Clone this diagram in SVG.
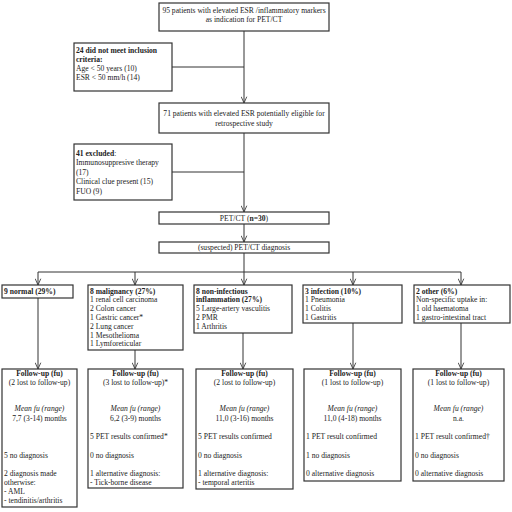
<svg xmlns="http://www.w3.org/2000/svg" width="512" height="512" viewBox="0 0 512 512">
<defs>
<style>
text{font-family:"Liberation Serif","Times New Roman",serif;font-size:7.6px;fill:#222}
.b{font-weight:bold}
.i{font-style:italic}
.c{text-anchor:middle}
.box{fill:#fff;stroke:#333;stroke-width:1.2}
.ln{fill:none;stroke:#333;stroke-width:1}
.ar{fill:none;stroke:#333;stroke-width:1;marker-end:url(#ah)}
</style>
<marker id="ah" viewBox="0 0 10 10" refX="10" refY="5" markerWidth="7" markerHeight="7" orient="auto" markerUnits="userSpaceOnUse">
<path d="M1,1 L10,5 L1,9" fill="none" stroke="#333" stroke-width="1.2"/>
</marker>
</defs>
<rect width="512" height="512" fill="#fff"/>
<g id="connectors">
<path class="ar" d="M244,31 V103"/>
<path class="ln" d="M172,67 H244"/>
<path class="ar" d="M244,133 V212"/>
<path class="ln" d="M172,172 H244"/>
<path class="ar" d="M244,224 V242"/>
<path class="ar" d="M244,253 V285"/>
<path class="ln" d="M38,272 H461"/>
<path class="ar" d="M38,272 V285"/>
<path class="ar" d="M135,272 V285"/>
<path class="ar" d="M353,272 V285"/>
<path class="ar" d="M461,272 V285"/>
<path class="ar" d="M38,298 V369"/>
<path class="ar" d="M135,350 V369"/>
<path class="ar" d="M243,333 V369"/>
<path class="ar" d="M353,323 V369"/>
<path class="ar" d="M461,323 V369"/>
</g>
<g id="n95">
<rect class="box" x="159" y="3" width="170" height="28"/>
<text class="c" x="244" y="12.5">95 patients with elevated ESR /inflammatory markers</text>
<text class="c" x="244" y="22">as indication for PET/CT</text>
</g>
<g id="n24">
<rect class="box" x="74" y="43" width="98" height="48"/>
<text class="b" x="76" y="52.5">24 did not meet inclusion</text>
<text class="b" x="76" y="61.5">criteria:</text>
<text x="76" y="70.5">Age &lt; 50 years (10)</text>
<text x="76" y="79.5">ESR &lt; 50 mm/h (14)</text>
</g>
<g id="n71">
<rect class="box" x="159" y="103" width="170" height="30"/>
<text class="c" x="244" y="115.5">71 patients with elevated ESR potentially eligible for</text>
<text class="c" x="244" y="125.5">retrospective study</text>
</g>
<g id="n41">
<rect class="box" x="74" y="144" width="98" height="56"/>
<text x="76" y="155.5"><tspan class="b">41 excluded</tspan>:</text>
<text x="76" y="165">Immunosuppresive therapy</text>
<text x="76" y="174.5">(17)</text>
<text x="76" y="184">Clinical clue present (15)</text>
<text x="76" y="193.5">FUO (9)</text>
</g>
<g id="npet">
<rect class="box" x="159" y="212" width="170" height="12"/>
<text class="c" x="244" y="220.8">PET/CT (<tspan class="b">n=30</tspan>)</text>
</g>
<g id="nsusp">
<rect class="box" x="159" y="242" width="170" height="11"/>
<text class="c" x="244" y="250.3">(suspected) PET/CT diagnosis</text>
</g>
<g id="nnormal">
<rect class="box" x="2" y="285" width="71" height="13"/>
<text class="b" x="4" y="293.5">9 normal (29%)</text>
</g>
<g id="nmalig">
<rect class="box" x="88" y="285" width="95" height="65"/>
<text class="b" x="90" y="293.5">8 malignancy (27%)</text>
<text x="90" y="302.3">1 renal cell carcinoma</text>
<text x="90" y="311.1">2 Colon cancer</text>
<text x="90" y="319.9">1 Gastric cancer*</text>
<text x="90" y="328.7">2 Lung cancer</text>
<text x="90" y="337.5">1 Mesothelioma</text>
<text x="90" y="346.3">1 Lymforeticular</text>
</g>
<g id="ninfl">
<rect class="box" x="194" y="285" width="98" height="48"/>
<text class="b" x="196" y="293.5">8 non-infectious</text>
<text class="b" x="196" y="302.3">inflammation (27%)</text>
<text x="196" y="311.1">5 Large-artery vasculitis</text>
<text x="196" y="319.9">2 PMR</text>
<text x="196" y="328.7">1 Arthritis</text>
</g>
<g id="ninf">
<rect class="box" x="303" y="285" width="99" height="38"/>
<text class="b" x="305" y="293.5">3 infection (10%)</text>
<text x="305" y="302.3">1 Pneumonia</text>
<text x="305" y="311.1">1 Colitis</text>
<text x="305" y="319.9">1 Gastritis</text>
</g>
<g id="nother">
<rect class="box" x="414" y="285" width="96" height="38"/>
<text class="b" x="416" y="293.5">2 other (6%)</text>
<text x="416" y="302.3">Non-specific uptake in:</text>
<text x="416" y="311.1">1 old haematoma</text>
<text x="416" y="319.9">1 gastro-intestinal tract</text>
</g>
<g id="fnormal">
<rect class="box" x="2" y="369" width="75" height="138"/>
<text class="c b" x="39.5" y="376">Follow-up (fu)</text>
<text class="c" x="39.5" y="385">(2 lost to follow-up)</text>
<text class="c i" x="39.5" y="411">Mean fu  (range)</text>
<text class="c" x="39.5" y="421">7,7 (3-14) months</text>
<text x="4" y="458">5 no diagnosis</text>
<text x="4" y="476">2 diagnosis made</text>
<text x="4" y="485">otherwise:</text>
<text x="4" y="494">- AML</text>
<text x="4" y="503">- tendinitis/arthritis</text>
</g>
<g id="fmalig">
<rect class="box" x="88" y="369" width="95" height="119"/>
<text class="c b" x="135.5" y="376">Follow-up (fu)</text>
<text class="c" x="135.5" y="385">(3 lost to follow-up)*</text>
<text class="c i" x="135.5" y="411">Mean fu  (range)</text>
<text class="c" x="135.5" y="421">6,2 (3-9) months</text>
<text x="90" y="439">5 PET results confirmed*</text>
<text x="90" y="458">0 no diagnosis</text>
<text x="90" y="476">1 alternative diagnosis:</text>
<text x="90" y="485">- Tick-borne disease</text>
</g>
<g id="finfl">
<rect class="box" x="196" y="369" width="97" height="120"/>
<text class="c b" x="244.5" y="376">Follow-up (fu)</text>
<text class="c" x="244.5" y="385">(2 lost to follow-up)</text>
<text class="c i" x="244.5" y="411">Mean fu  (range)</text>
<text class="c" x="244.5" y="421">11,0 (3-16) months</text>
<text x="198" y="439">5 PET results confirmed</text>
<text x="198" y="458">0 no diagnosis</text>
<text x="198" y="476">1 alternative diagnosis:</text>
<text x="198" y="485">- temporal arteritis</text>
</g>
<g id="finf">
<rect class="box" x="304" y="369" width="97" height="112"/>
<text class="c b" x="352.5" y="376">Follow-up (fu)</text>
<text class="c" x="352.5" y="385">(1 lost to follow-up)</text>
<text class="c i" x="352.5" y="411">Mean fu  (range)</text>
<text class="c" x="352.5" y="421">11,0 (4-18) months</text>
<text x="306" y="439">1 PET result confirmed</text>
<text x="306" y="458">1 no diagnosis</text>
<text x="306" y="476">0 alternative diagnosis</text>
</g>
<g id="fother">
<rect class="box" x="413" y="369" width="91" height="112"/>
<text class="c b" x="458.5" y="376">Follow-up (fu)</text>
<text class="c" x="458.5" y="385">(1 lost to follow-up)</text>
<text class="c i" x="458.5" y="411">Mean fu (range)</text>
<text class="c" x="458.5" y="421">n.a.</text>
<text x="415" y="439">1 PET result confirmed†</text>
<text x="415" y="458">0 no diagnosis</text>
<text x="415" y="476">0 alternative diagnosis</text>
</g>
</svg>
